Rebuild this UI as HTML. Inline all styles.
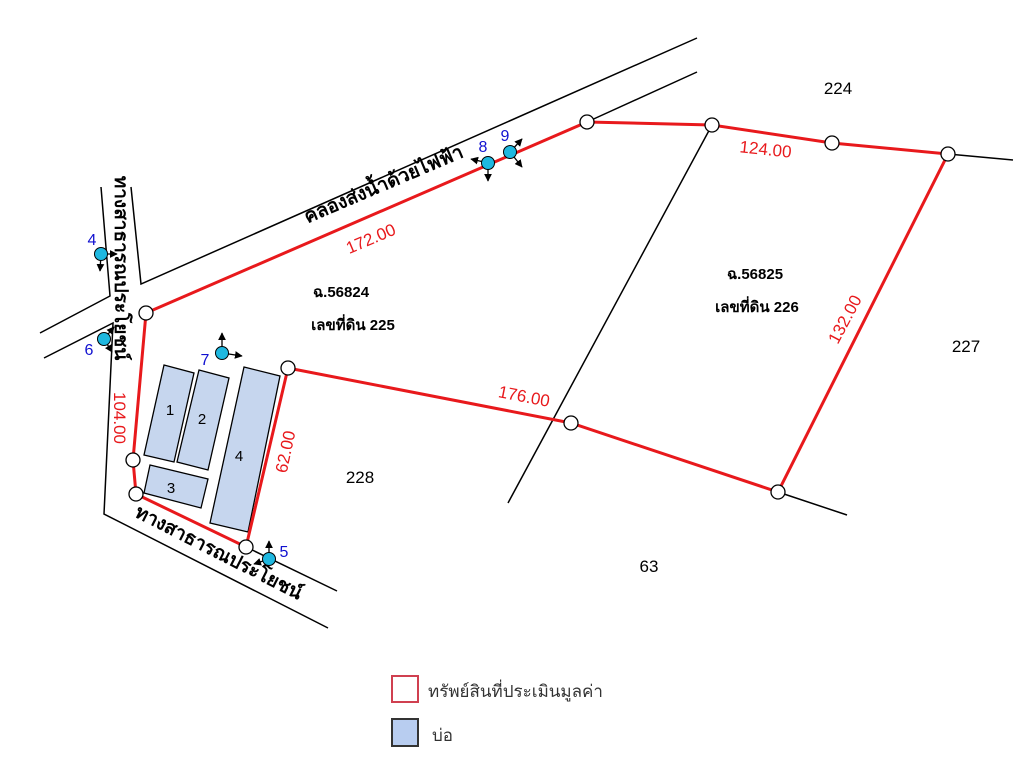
<!DOCTYPE html>
<html><head><meta charset="utf-8"><style>
html,body{margin:0;padding:0;background:#fff}
svg{display:block}
text{font-family:"Liberation Sans","DejaVu Sans",sans-serif}
</style></head><body>
<svg width="1023" height="774" viewBox="0 0 1023 774" xmlns="http://www.w3.org/2000/svg">
<defs>
<marker id="ar" viewBox="0 0 10 10" refX="9" refY="5" markerWidth="6" markerHeight="6" orient="auto"><path d="M0,0L10,5L0,10z" fill="#000"/></marker>
</defs>
<g stroke="#000" stroke-width="1.5" fill="none">
<polyline points="40,333 110,296 101,187"/>
<polyline points="131,187 141,284 697,38"/>
<polyline points="44,358 113,323 104,514 328,628"/>
<line x1="246" y1="547" x2="337" y2="591"/>
<line x1="587" y1="122" x2="697" y2="72"/>
<line x1="712" y1="125" x2="508" y2="503"/>
<line x1="948" y1="154" x2="1013" y2="160"/>
<line x1="778" y1="492" x2="847" y2="515"/>
</g>
<g fill="#c6d6ee" stroke="#000" stroke-width="1.3">
<polygon points="164,365 194,373 174,462 144,455"/>
<polygon points="199,370 229,378 208,470 177,462"/>
<polygon points="244,367 280,376 248,532 210,523"/>
<polygon points="150,465 208,479 201,508 144,493"/>
</g>
<g font-size="15" fill="#000" text-anchor="middle">
<text x="170" y="415">1</text><text x="202" y="424">2</text><text x="239" y="461">4</text><text x="171" y="493">3</text>
</g>
<polygon points="146,313 587,122 712,125 832,143 948,154 778,492 571,423 288,368 246,547 136,494 133,460" fill="none" stroke="#e8191c" stroke-width="3"/>
<g fill="#fff" stroke="#000" stroke-width="1.3">
<circle cx="146" cy="313" r="7"/><circle cx="587" cy="122" r="7"/><circle cx="712" cy="125" r="7"/><circle cx="832" cy="143" r="7"/><circle cx="948" cy="154" r="7"/><circle cx="778" cy="492" r="7"/><circle cx="571" cy="423" r="7"/><circle cx="288" cy="368" r="7"/><circle cx="246" cy="547" r="7"/><circle cx="136" cy="494" r="7"/><circle cx="133" cy="460" r="7"/>
</g>
<g fill="#e8191c" font-size="17" text-anchor="middle">
<text transform="translate(373,244) rotate(-23)">172.00</text>
<text transform="translate(765,155) rotate(6)">124.00</text>
<text transform="translate(850,322) rotate(-62)">132.00</text>
<text transform="translate(523,402) rotate(11)">176.00</text>
<text transform="translate(291,453) rotate(-78)">62.00</text>
<text transform="translate(114,418) rotate(90)">104.00</text>
</g>
<g fill="#000" font-size="19" font-weight="bold" text-anchor="middle">
<text transform="translate(386,190) rotate(-23)">คลองส่งน้ำด้วยไฟฟ้า</text>
<text transform="translate(115,268) rotate(90)">ทางสาธารณประโยชน์</text>
<text transform="translate(216,558) rotate(27)">ทางสาธารณประโยชน์</text>
</g>
<g fill="#000" font-size="17" text-anchor="middle">
<text x="838" y="94">224</text><text x="966" y="352">227</text><text x="360" y="483">228</text><text x="649" y="572">63</text>
</g>
<g fill="#000" font-size="15" font-weight="bold" text-anchor="middle">
<text x="341" y="297">ฉ.56824</text><text x="353" y="330">เลขที่ดิน 225</text>
<text x="755" y="279">ฉ.56825</text><text x="757" y="312">เลขที่ดิน 226</text>
</g>
<g stroke="#000" stroke-width="1.3" marker-end="url(#ar)">
<line x1="101" y1="254" x2="117" y2="254"/><line x1="101" y1="254" x2="100" y2="271"/>
<line x1="104" y1="339" x2="114" y2="327"/><line x1="104" y1="339" x2="112" y2="352"/>
<line x1="222" y1="353" x2="222" y2="333"/><line x1="222" y1="353" x2="242" y2="356"/>
<line x1="488" y1="163" x2="471" y2="159"/><line x1="488" y1="163" x2="488" y2="181"/>
<line x1="510" y1="152" x2="522" y2="139"/><line x1="510" y1="152" x2="522" y2="167"/>
<line x1="269" y1="559" x2="269" y2="541"/><line x1="269" y1="559" x2="254" y2="564"/>
</g>
<g fill="#1fb8e0" stroke="#000" stroke-width="1">
<circle cx="101" cy="254" r="6.5"/><circle cx="104" cy="339" r="6.5"/><circle cx="222" cy="353" r="6.5"/><circle cx="488" cy="163" r="6.5"/><circle cx="510" cy="152" r="6.5"/><circle cx="269" cy="559" r="6.5"/>
</g>
<g fill="#1010d0" font-size="16" text-anchor="middle">
<text x="92" y="245">4</text><text x="89" y="355">6</text><text x="205" y="365">7</text><text x="483" y="152">8</text><text x="505" y="141">9</text><text x="284" y="557">5</text>
</g>
<rect x="392" y="676" width="26" height="26" fill="#fff" stroke="#d04050" stroke-width="2"/>
<rect x="392" y="719" width="26" height="27" fill="#b8cdf0" stroke="#333" stroke-width="2"/>
<g fill="#333" font-size="17">
<text x="428" y="697">ทรัพย์สินที่ประเมินมูลค่า</text><text x="432" y="741">บ่อ</text>
</g>
</svg>
</body></html>
